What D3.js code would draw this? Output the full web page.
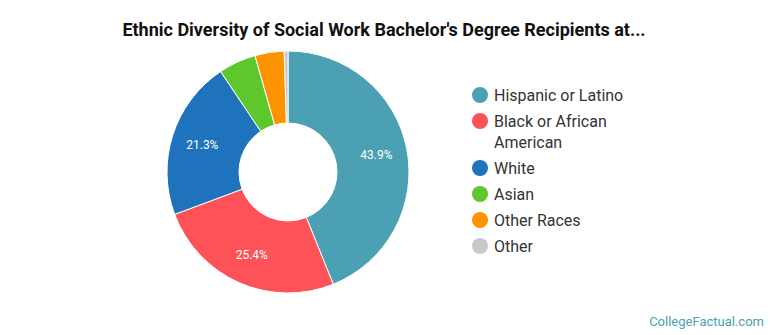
<!DOCTYPE html>
<html>
<head>
<meta charset="utf-8">
<script src="https://cdn.jsdelivr.net/npm/d3@7"></script>
<style>
  body { margin: 0; background: #fff; }
  svg { display: block; font-family: Roboto, "Open Sans", sans-serif; }
</style>
</head>
<body>
<div id="chart"></div>
<script>
// data
const categories = ["Hispanic or Latino", "Black or African American", "White", "Asian", "Other Races", "Other"];
const shares = [43.9, 25.4, 21.3, 5.0, 3.9, 0.5];
const colors = ["#4ba0b4", "#fd5257", "#1f73bd", "#5ec72b", "#fd9300", "#c8c8c8"];
const legendLines = [["Hispanic or Latino"], ["Black or African", "American"], ["White"], ["Asian"], ["Other Races"], ["Other"]];

const width = 770, height = 335;
const cx = 288, cy = 172, outerR = 121, innerR = 49;

const svg = d3.select("#chart").append("svg")
    .attr("width", width)
    .attr("height", height)
    .attr("viewBox", [0, 0, width, height]);

svg.append("text")
    .attr("x", 384)
    .attr("y", 36)
    .attr("text-anchor", "middle")
    .attr("font-size", 18)
    .attr("font-weight", "bold")
    .attr("fill", "#111")
    .text("Ethnic Diversity of Social Work Bachelor's Degree Recipients at...");

const pie = d3.pie().sort(null).value(d => d);
const arcs = pie(shares);
const arc = d3.arc().innerRadius(innerR).outerRadius(outerR);
const labelArc = d3.arc().innerRadius(90).outerRadius(90);

const g = svg.append("g").attr("transform", `translate(${cx},${cy})`);

g.selectAll("path")
  .data(arcs)
  .join("path")
    .attr("d", arc)
    .attr("fill", (d, i) => colors[i])
    .attr("stroke", "#fff")
    .attr("stroke-width", 1);

g.selectAll("text")
  .data(arcs.filter(d => d.data > 10))
  .join("text")
    .attr("transform", d => `translate(${labelArc.centroid(d)})`)
    .attr("text-anchor", "middle")
    .attr("dy", "0.35em")
    .attr("font-size", 12)
    .attr("fill", "#fff")
    .text(d => d.data.toFixed(1) + "%");

// legend
const legend = svg.append("g").attr("font-size", 16).attr("fill", "#333");
let y = 95;
categories.forEach((c, i) => {
  legend.append("circle")
      .attr("cx", 480)
      .attr("cy", y)
      .attr("r", 8)
      .attr("fill", colors[i]);
  const t = legend.append("text")
      .attr("x", 494)
      .attr("y", y);
  legendLines[i].forEach((line, j) => {
    t.append("tspan").attr("x", 494).attr("dy", j === 0 ? "0.35em" : 21).text(line);
  });
  y += 26 + (legendLines[i].length - 1) * 21;
});

svg.append("text")
    .attr("x", 764)
    .attr("y", 326)
    .attr("text-anchor", "end")
    .attr("font-size", 13)
    .attr("fill", "#4ba0b4")
    .text("CollegeFactual.com");
</script>
</body>
</html>
